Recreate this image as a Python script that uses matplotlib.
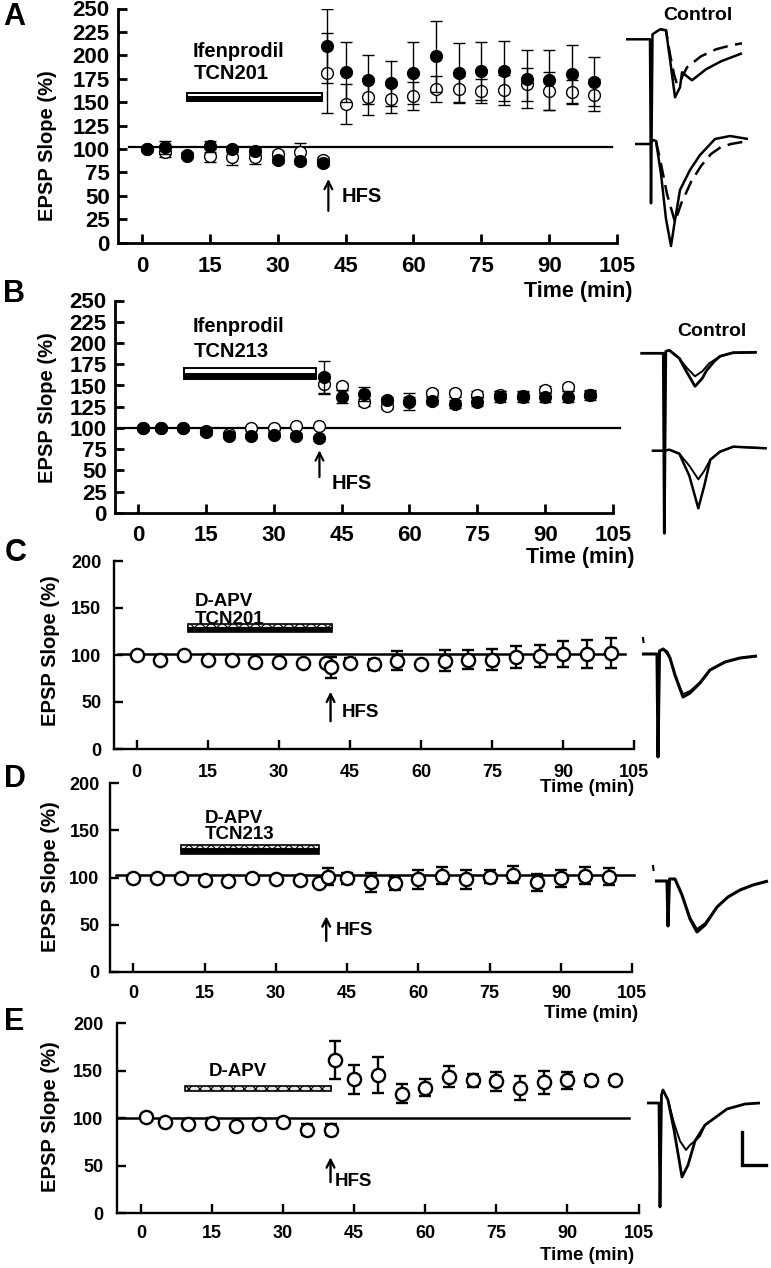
import numpy as np
import matplotlib
matplotlib.use("Agg")
import matplotlib.pyplot as plt
from matplotlib.patches import Rectangle

plt.rcParams['font.family'] = ['Liberation Sans', 'DejaVu Sans']
plt.rcParams['font.weight'] = 'bold'
plt.rcParams['hatch.linewidth'] = 0.8

# ---------------- data ----------------
tA = [1, 5, 10, 15, 20, 25, 30, 35, 40, 41, 45, 50, 55, 60, 65, 70, 75, 80, 85, 90, 95, 100]
A_fill = [100, 102, 93, 103, 100, 98, 88, 87, 85, 210, 182, 174, 170, 181, 199, 181, 183, 183, 175, 174, 180, 172]
A_fill_err = [2, 7, 3, 6, 3, 3, 3, 3, 3, 40, 32, 26, 24, 33, 38, 32, 31, 32, 31, 32, 31, 26]
A_open = [100, 97, 94, 93, 92, 91, 95, 97, 88, 181, 148, 156, 153, 157, 164, 164, 162, 163, 169, 162, 161, 158]
A_open_err = [2, 6, 3, 7, 9, 7, 3, 9, 3, 43, 21, 20, 15, 15, 14, 14, 13, 16, 18, 20, 13, 17]

tB = [1, 5, 10, 15, 20, 25, 30, 35, 40, 41, 45, 50, 55, 60, 65, 70, 75, 80, 85, 90, 95, 100]
B_fill = [100, 100, 100, 95, 91, 91, 92, 91, 88, 160, 137, 140, 133, 131, 132, 128, 131, 137, 137, 136, 137, 139]
B_fill_err = [2, 2, 2, 3, 3, 3, 3, 3, 3, 19, 8, 8, 4, 10, 4, 5, 5, 6, 6, 5, 6, 6]
B_open = [100, 100, 100, 96, 93, 100, 100, 102, 102, 152, 149, 130, 126, 132, 141, 141, 139, 139, 138, 145, 148, 139]
B_open_err = [2, 2, 2, 2, 2, 2, 2, 2, 2, 12, 4, 4, 4, 4, 4, 4, 4, 4, 4, 4, 4, 4]

tC = [0, 5, 10, 15, 20, 25, 30, 35, 40, 41, 45, 50, 55, 60, 65, 70, 75, 80, 85, 90, 95, 100]
C_vals = [100, 95, 100, 95, 95, 93, 93, 92, 91, 87, 92, 90, 94, 90, 94, 95, 95, 98, 99, 101, 101, 102]
C_err = [1.5, 1, 1.5, 1, 1, 1, 1, 1, 1, 11, 5, 6, 10, 2, 11, 10, 11, 12, 12, 14, 15, 16]

tD = [0, 5, 10, 15, 20, 25, 30, 35, 39, 41, 45, 50, 55, 60, 65, 70, 75, 80, 85, 90, 95, 100]
D_vals = [99, 99, 100, 97, 96, 100, 98, 97, 94, 101, 99, 95, 94, 98, 102, 98, 101, 103, 95, 99, 102, 101]
D_err = [1, 1, 1, 2, 4, 1, 1, 1, 1, 9, 6, 10, 7, 10, 9, 10, 7, 9, 9, 9, 9, 9]

tE = [1, 5, 10, 15, 20, 25, 30, 35, 40, 41, 45, 50, 55, 60, 65, 70, 75, 80, 85, 90, 95, 100]
E_vals = [101, 96, 94, 95, 92, 94, 96, 88, 88, 161, 141, 146, 126, 132, 144, 140, 139, 132, 138, 140, 140, 140]
E_err = [1, 1, 1, 5, 1, 1, 4, 6, 6, 20, 15, 19, 10, 9, 11, 7, 10, 13, 12, 9, 6, 5]

x_ticks = [0, 15, 30, 45, 60, 75, 90, 105]
yticks_AB = [0, 25, 50, 75, 100, 125, 150, 175, 200, 225, 250]
yticks_CDE = [0, 50, 100, 150, 200]

# example traces (relative units: time, amplitude; amplitude positive = up)
trA1_t = [-25, -1, 0, 1.5, 9, 15, 19, 24, 29, 31, 41, 55, 70, 91]
trA1_v = [0, 0, -164, 5, 10, 9, -20, -58, -48, -33, -41, -30, -22, -14]
trA1d_t = [9, 15, 19, 23, 26, 30, 36, 50, 65, 80, 91]
trA1d_v = [10, 9, -15, -35, -45, -40, -28, -17, -10, -6, -4]
trA2_t = [-16, -1, 2, 5, 10, 15, 20, 24, 29, 39, 49, 64, 79, 97]
trA2_v = [0, 0, 4, 3, -30, -75, -102, -76, -46, -26, -11, 5, 8, 5]
trA2d_t = [5, 10, 16, 24, 30, 40, 50, 60, 70, 80, 97]
trA2d_v = [3, -20, -50, -78, -60, -38, -22, -10, -3, 0, 3]

trB1_t = [-24, -1, 0, 1.5, 5, 15, 22, 30.7, 38, 42.4, 50, 55.7, 68.7, 92.4]
trB1_v = [0, 0, -180, 2, 3, -5, -18, -33, -25, -17, -8, -3, 0.6, 1]
trB1b_t = [5, 15, 22, 30.7, 38, 45, 55.7, 68.7, 92.4]
trB1b_v = [3, -5, -14, -23, -18, -10, -3, 0.6, 1]
trB2_t = [-12.6, 0, 5, 15, 25, 34, 40, 46, 55.7, 69, 102.4]
trB2_v = [0, 0, 1, -3, -25, -57.6, -35, -9, -1, 4, 2.4]
trB2b_t = [5, 15, 25, 34, 40, 46, 55.7, 69, 102.4]
trB2b_v = [1, -3, -15, -28.6, -20, -9, -1, 4, 2.4]

trC_t = [-16, -1, 0, 1.5, 5, 9, 12, 17, 25, 32, 42, 52, 67, 82, 99]
trC_v = [0, 0, -103, 3, 5, 2, -4, -21, -43, -39, -29, -16, -8, -4, -2]
trC2_t = [5, 12, 17, 25, 32, 42, 52, 67, 82, 99]
trC2_v = [5, -4, -22, -40, -37, -28, -16, -8, -4, -2]

trD_t = [-13, -1, 0, 1.5, 7, 14, 22, 29, 37, 49, 60, 72, 85, 100]
trD_v = [0, 0, -45, 2, 2, -14, -38, -51, -44, -26, -16, -9, -4, 0]
trD2_t = [7, 14, 22, 29, 37, 49]
trD2_v = [2, -14, -36, -48, -42, -26]

trE_t = [-13, -1, 0, 1.5, 3, 8, 14, 22, 28, 35, 45, 67, 85, 100]
trE_v = [0, 0, -104, 8, 13, 3, -27, -74, -62, -38, -22, -6, -1, 0]
trE2_t = [8, 14, 20, 26, 30, 35, 40, 45]
trE2_v = [3, -20, -38, -47, -42, -38, -33, -22]

# ---------------- figure ----------------
W, H = 771, 1268
fig = plt.figure(figsize=(W / 100, H / 100), dpi=100)


def add_ax(x0, x1, ytop, ybot):
    return fig.add_axes([x0 / W, 1 - ybot / H, (x1 - x0) / W, (ybot - ytop) / H])


def style_ax(ax, xlim, ylim, yticks, lw, tfs, xpad, ypad):
    ax.set_xlim(*xlim)
    ax.set_ylim(*ylim)
    ax.set_xticks(x_ticks)
    ax.set_yticks(yticks)
    for s in ['top', 'right']:
        ax.spines[s].set_visible(False)
    for s in ['left', 'bottom']:
        ax.spines[s].set_linewidth(lw)
    ax.tick_params(axis='both', direction='in', length=6.5, width=lw, labelsize=tfs)
    ax.tick_params(axis='x', pad=xpad)
    ax.tick_params(axis='y', pad=ypad)
    for lab in ax.get_xticklabels() + ax.get_yticklabels():
        lab.set_fontweight('bold')
    ax.patch.set_alpha(0)


def fig_text(x, y, s, **kw):
    fig.text(x / W, 1 - y / H, s, **kw)


# ---- Panel A ----
axA = add_ax(118, 617, 8.5, 242.7)
style_ax(axA, (-5.3, 105), (0, 250), yticks_AB, 2.0, 16, 9.5, 6)
axA.plot([-2.8, 104], [102, 102], color='k', lw=1.6, clip_on=False, zorder=1)
axA.errorbar(tA, A_open, yerr=A_open_err, fmt='o', ms=8.5, mfc='white', mec='k', mew=1.0,
             ecolor='k', elinewidth=1.0, capsize=4, capthick=1.0, zorder=3)
axA.errorbar(tA, A_fill, yerr=A_fill_err, fmt='o', ms=8.5, mfc='k', mec='k', mew=1.0,
             ecolor='k', elinewidth=1.0, capsize=4, capthick=1.0, zorder=4)
axA.add_patch(Rectangle((10, 155), 29.8, 5, facecolor='white', edgecolor='k', lw=1.4, zorder=2))
axA.add_patch(Rectangle((10, 151.5), 29.8, 3.5, facecolor='k', edgecolor='k', lw=1.4, zorder=2))
axA.text(11.3, 204, 'Ifenprodil', fontsize=14.5, fontweight='bold', va='center', ha='left')
axA.text(11.5, 181, 'TCN201', fontsize=14.5, fontweight='bold', va='center', ha='left')
axA.annotate('', xy=(41.2, 71), xytext=(41.2, 31),
             arrowprops=dict(arrowstyle='->', lw=1.6, color='k', mutation_scale=14))
axA.text(44.1, 49, 'HFS', fontsize=14.5, fontweight='bold', va='center', ha='left')

# ---- Panel B ----
axB = add_ax(115, 613, 300.5, 513)
style_ax(axB, (-5.1, 105), (0, 250), yticks_AB, 2.0, 16, 8.5, 6)
axB.plot([-4.7, 106.5], [100, 100], color='k', lw=1.6, clip_on=False, zorder=1)
axB.errorbar(tB, B_open, yerr=B_open_err, fmt='o', ms=8.5, mfc='white', mec='k', mew=1.0,
             ecolor='k', elinewidth=1.0, capsize=4, capthick=1.0, zorder=3)
axB.errorbar(tB, B_fill, yerr=B_fill_err, fmt='o', ms=8.5, mfc='k', mec='k', mew=1.0,
             ecolor='k', elinewidth=1.0, capsize=4, capthick=1.0, zorder=4)
axB.add_patch(Rectangle((10.2, 163.5), 29.1, 6.7, facecolor='white', edgecolor='k', lw=1.4, zorder=2))
axB.add_patch(Rectangle((10.2, 157.3), 29.1, 6.2, facecolor='k', edgecolor='k', lw=1.4, zorder=2))
axB.text(12.0, 220, 'Ifenprodil', fontsize=14.5, fontweight='bold', va='center', ha='left')
axB.text(12.4, 190, 'TCN213', fontsize=14.5, fontweight='bold', va='center', ha='left')
axB.annotate('', xy=(40.1, 77), xytext=(40.1, 39),
             arrowprops=dict(arrowstyle='->', lw=1.6, color='k', mutation_scale=14))
axB.text(42.9, 35, 'HFS', fontsize=14.5, fontweight='bold', va='center', ha='left')


def open_series(ax, t, v, e):
    ax.errorbar(t, v, yerr=e, fmt='o', ms=9.5, mfc='white', mec='k', mew=1.7,
                ecolor='k', elinewidth=1.7, capsize=4.5, capthick=1.7, zorder=3)


def hatched_bar(ax, t0, t1, y0, y1):
    ax.add_patch(Rectangle((t0, y0), t1 - t0, y1 - y0, facecolor='#e4e4e4', edgecolor='k',
                           hatch='xxx', lw=1.2, zorder=2))


def ctext(ax, x, y, s, fs=13.5):
    ax.text(x, y, s, fontsize=fs, fontweight='bold', va='center', ha='left')


# ---- Panel C ----
axC = add_ax(114, 634.3, 561, 749)
style_ax(axC, (-4.8, 105), (0, 200), yticks_CDE, 1.7, 13, 10.5, 9)
axC.plot([-4, 103], [101, 101], color='k', lw=1.8, zorder=1)
open_series(axC, tC, C_vals, C_err)
hatched_bar(axC, 10.9, 41.1, 128.4, 133)
axC.add_patch(Rectangle((10.9, 124), 30.2, 4.4, facecolor='k', edgecolor='k', lw=1.2, zorder=2))
ctext(axC, 12.3, 157, 'D-APV')
ctext(axC, 12.3, 138, 'TCN201')
axC.annotate('', xy=(40.9, 64), xytext=(40.9, 26.6),
             arrowprops=dict(arrowstyle='->', lw=1.7, color='k', mutation_scale=14))
ctext(axC, 43.3, 38.6, 'HFS')

# ---- Panel D ----
axD = add_ax(110, 632.3, 783, 972)
style_ax(axD, (-4.9, 105), (0, 200), yticks_CDE, 1.7, 13, 9, 7.5)
axD.plot([-3.7, 105.4], [102.6, 102.6], color='k', lw=1.8, zorder=1, clip_on=False)
open_series(axD, tD, D_vals, D_err)
hatched_bar(axD, 10.1, 39.1, 130, 134)
axD.add_patch(Rectangle((10.1, 125), 29.0, 5, facecolor='k', edgecolor='k', lw=1.2, zorder=2))
ctext(axD, 15.0, 162, 'D-APV')
ctext(axD, 15.0, 146, 'TCN213')
axD.annotate('', xy=(40.6, 62), xytext=(40.6, 30),
             arrowprops=dict(arrowstyle='->', lw=1.7, color='k', mutation_scale=14))
ctext(axD, 42.6, 44, 'HFS')

# ---- Panel E ----
axE = add_ax(117.3, 638.5, 1023.3, 1213.3)
style_ax(axE, (-5.0, 105), (0, 200), yticks_CDE, 1.7, 13, 8.5, 10)
axE.plot([-4.8, 103], [100, 100], color='k', lw=1.8, zorder=1)
open_series(axE, tE, E_vals, E_err)
hatched_bar(axE, 9.2, 40.0, 129, 134)
ctext(axE, 14.4, 149, 'D-APV')
axE.annotate('', xy=(40.0, 62), xytext=(40.0, 29.8),
             arrowprops=dict(arrowstyle='->', lw=1.7, color='k', mutation_scale=14))
ctext(axE, 40.9, 33.3, 'HFS')

# ---- shared labels ----
for (yc, xl) in [(146, 48), (408, 48), (651, 50), (877, 50), (1117, 50)]:
    fig_text(xl, yc, 'EPSP Slope (%)', rotation=90, fontsize=14.5, fontweight='bold',
             ha='center', va='center')
for (x, y, fs) in [(633, 291, 15.5), (634, 558, 15.5), (634, 787, 13.5),
                   (638, 1014, 13.5), (634, 1256, 13.5)]:
    fig_text(x, y, 'Time (min)', fontsize=fs, fontweight='bold', ha='right', va='center')
for (x, y, s) in [(3, 17, 'A'), (3, 294, 'B'), (5, 553, 'C'), (4, 779, 'D'), (4, 1022, 'E')]:
    fig_text(x, y, s, fontsize=22, fontweight='bold', ha='left', va='center')

# ---- example traces overlay ----
ov = fig.add_axes([0, 0, 1, 1])
ov.set_xlim(0, W)
ov.set_ylim(H, 0)
ov.axis('off')
ov.patch.set_alpha(0)


def trace(t, v, x0, y0, ls='-', lw=1.6):
    ov.plot(np.asarray(t) + x0, y0 - np.asarray(v), color='k', lw=lw, ls=ls,
            solid_capstyle='butt', solid_joinstyle='round')


# A
trace(trA1_t, trA1_v, 651, 39.3, lw=1.8)
trace(trA1d_t, trA1d_v, 651, 39.3, ls=(0, (6, 3)), lw=1.8)
trace(trA2_t, trA2_v, 651, 144, lw=1.8)
trace(trA2d_t, trA2d_v, 651, 144, ls=(0, (6, 3)), lw=1.8)
fig_text(698, 15, 'Control', fontsize=14, fontweight='bold', ha='center', va='center')
# B
trace(trB1_t, trB1_v, 664.3, 353.3, lw=2.0)
trace(trB1b_t, trB1b_v, 664.3, 353.3, lw=1.4)
trace(trB2_t, trB2_v, 664.3, 450.7, lw=1.8)
trace(trB2b_t, trB2b_v, 664.3, 450.7, lw=1.4)
fig_text(712, 332, 'Control', fontsize=14, fontweight='bold', ha='center', va='center')
# C
trace(trC_t, trC_v, 658, 654, lw=2.2)
trace(trC2_t, trC2_v, 658, 654, lw=1.2)
ov.plot([643, 643.5], [638, 642], color='k', lw=1.5)
# D
trace(trD_t, trD_v, 668, 881, lw=2.2)
trace(trD2_t, trD2_v, 668, 881, lw=1.2)
ov.plot([653, 653.5], [866, 870], color='k', lw=1.5)
# E
trace(trE_t, trE_v, 660, 1103, lw=2.0)
trace(trE2_t, trE2_v, 660, 1103, lw=1.4)
ov.plot([742, 742, 766], [1132, 1165, 1165], color='k', lw=2.4, solid_joinstyle='miter')

fig.savefig('out.png', dpi=100)
